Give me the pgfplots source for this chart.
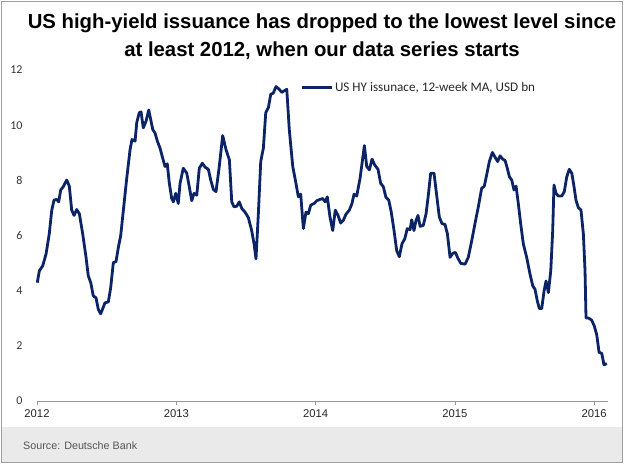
\documentclass[border=0pt]{standalone}
\usepackage{pgfplots}
\pgfplotsset{compat=1.18}
\usepackage{fontspec}
\setmainfont{Liberation Sans}
\newfontfamily\carlito{Carlito}
\definecolor{navy}{RGB}{12,36,102}
\definecolor{framegray}{RGB}{160,160,160}
\definecolor{footgray}{RGB}{234,234,234}
\definecolor{srcgray}{RGB}{85,85,85}
\definecolor{axgray}{RGB}{150,150,150}
\begin{document}
\begin{tikzpicture}
\path[use as bounding box] (0,0) rectangle (624bp,464bp);
\fill[footgray] (2bp,2bp) rectangle (622bp,37bp);
\draw[framegray, line width=1bp] (1.5bp,1.5bp) rectangle (622.5bp,462.5bp);
\node[font=\bfseries\fontsize{20.4}{24}\selectfont, anchor=center] at (322bp,441bp) {US high-yield issuance has dropped to the lowest level since};
\node[font=\bfseries\fontsize{20.4}{24}\selectfont, anchor=center] at (322bp,413bp) {at least 2012, when our data series starts};
\node[font=\fontsize{10.8}{12}\selectfont, text=srcgray, anchor=west, inner sep=0pt] at (23bp,18.5bp) {Source: Deutsche Bank};
\begin{axis}[
  at={(37bp,63bp)}, anchor=south west,
  scale only axis, width=570.6bp, height=331bp,
  xmin=2012, xmax=2016.096, ymin=0, ymax=12,
  axis x line*=bottom, axis y line*=left,
  x axis line style={draw=axgray, line width=0.8bp},
  y axis line style={draw=none},
  xtick={2012,2013,2014,2015,2016},
  ytick={0,2,4,6,8,10,12},
  tick align=outside,
  major tick length=4bp,
  xtick style={draw=axgray, line width=0.8bp},
  ytick style={draw=none},
  /pgf/number format/assume math mode=true,
  /pgf/number format/1000 sep={},
  xticklabel style={font=\fontsize{11.3}{12}\selectfont, text=black!85, yshift=-1bp},
  yticklabel style={font=\carlito\fontsize{12}{12}\selectfont, text=black!80, xshift=-7bp},
  legend style={draw=none, fill=none, at={(0.461,0.947)}, anchor=west, inner sep=0pt,
    font=\carlito\fontsize{13.2}{14}\selectfont, text=black!85},
  legend image code/.code={\draw[#1] (0bp,0bp) -- (30bp,0bp);},
  legend cell align=left,
  clip=false,
]
\addplot[navy, line width=2.8bp, line join=round] coordinates {
(2012.002,4.29)(2012.017,4.72)(2012.041,4.90)(2012.065,5.33)(2012.088,6.06)(2012.106,6.92)(2012.122,7.28)(2012.141,7.31)(2012.156,7.22)(2012.170,7.65)(2012.189,7.77)(2012.213,8.01)(2012.232,7.79)(2012.249,6.92)(2012.266,6.73)(2012.285,6.94)(2012.304,6.79)(2012.328,6.06)(2012.352,5.21)(2012.368,4.54)(2012.386,4.29)(2012.404,3.81)(2012.424,3.74)(2012.440,3.32)(2012.457,3.16)(2012.472,3.35)(2012.488,3.56)(2012.512,3.59)(2012.529,4.11)(2012.548,5.02)(2012.567,5.05)(2012.584,5.57)(2012.601,6.00)(2012.620,6.92)(2012.644,8.07)(2012.668,9.11)(2012.682,9.48)(2012.704,9.42)(2012.716,10.09)(2012.734,10.45)(2012.747,10.48)(2012.763,9.90)(2012.783,10.15)(2012.802,10.55)(2012.816,10.21)(2012.831,9.84)(2012.847,9.72)(2012.864,9.42)(2012.883,9.17)(2012.902,8.81)(2012.919,8.50)(2012.935,8.60)(2012.950,7.89)(2012.967,7.34)(2012.979,7.22)(2012.996,7.53)
(2013.014,7.16)(2013.027,7.89)(2013.050,8.44)(2013.075,8.26)(2013.093,7.77)(2013.111,7.26)(2013.127,7.53)(2013.147,7.46)(2013.165,8.44)(2013.187,8.62)(2013.206,8.48)(2013.230,8.40)(2013.247,8.01)(2013.266,7.67)(2013.285,7.59)(2013.307,8.44)(2013.333,9.62)(2013.357,9.11)(2013.381,8.74)(2013.398,7.22)(2013.414,7.04)(2013.434,7.06)(2013.452,7.22)(2013.470,6.98)(2013.493,6.85)(2013.517,6.65)(2013.541,6.18)(2013.558,5.70)(2013.572,5.15)(2013.589,6.79)(2013.606,8.68)(2013.625,9.17)(2013.642,10.45)(2013.661,10.64)(2013.678,11.12)(2013.696,11.16)(2013.716,11.40)(2013.739,11.30)(2013.757,11.19)(2013.773,11.24)(2013.793,11.30)(2013.811,9.84)(2013.836,8.50)(2013.859,7.89)(2013.876,7.40)(2013.893,7.50)(2013.912,6.25)(2013.931,6.85)(2013.948,6.79)(2013.965,7.10)(2013.989,7.16)
(2014.008,7.26)(2014.032,7.31)(2014.051,7.34)(2014.068,7.22)(2014.084,7.40)(2014.103,6.67)(2014.123,6.18)(2014.141,6.92)(2014.161,6.73)(2014.180,6.45)(2014.199,6.55)(2014.218,6.77)(2014.242,6.92)(2014.261,7.16)(2014.276,7.50)(2014.295,7.43)(2014.319,8.07)(2014.335,8.68)(2014.350,9.26)(2014.367,8.50)(2014.386,8.38)(2014.405,8.77)(2014.424,8.56)(2014.448,8.40)(2014.467,7.89)(2014.486,7.77)(2014.505,7.38)(2014.525,7.28)(2014.543,6.85)(2014.563,6.18)(2014.582,5.45)(2014.601,5.23)(2014.620,5.70)(2014.640,5.88)(2014.658,6.25)(2014.678,6.21)(2014.690,6.57)(2014.706,6.18)(2014.721,6.55)(2014.735,6.73)(2014.750,6.33)(2014.773,6.37)(2014.793,6.79)(2014.809,7.46)(2014.826,8.26)(2014.850,8.26)(2014.869,7.46)(2014.888,6.67)(2014.907,6.43)(2014.929,6.40)(2014.946,6.06)(2014.965,5.21)(2014.984,5.35)
(2015.003,5.39)(2015.021,5.18)(2015.042,4.99)(2015.073,4.96)(2015.096,5.21)(2015.121,5.82)(2015.144,6.43)(2015.168,7.04)(2015.192,7.71)(2015.211,7.79)(2015.228,8.20)(2015.247,8.68)(2015.269,9.01)(2015.288,8.84)(2015.307,8.68)(2015.324,8.89)(2015.343,8.77)(2015.360,8.72)(2015.376,8.44)(2015.391,8.13)(2015.408,8.01)(2015.424,7.65)(2015.439,7.79)(2015.455,7.16)(2015.472,6.43)(2015.491,5.70)(2015.515,5.21)(2015.539,4.60)(2015.559,4.17)(2015.575,4.05)(2015.592,3.62)(2015.606,3.35)(2015.623,3.35)(2015.640,3.99)(2015.654,4.35)(2015.671,3.93)(2015.688,4.72)(2015.702,6.18)(2015.711,7.83)(2015.726,7.53)(2015.742,7.43)(2015.767,7.43)(2015.785,7.59)(2015.803,8.13)(2015.821,8.40)(2015.839,8.26)(2015.855,7.77)(2015.869,7.28)(2015.886,7.01)(2015.905,6.92)(2015.922,6.06)(2015.934,4.72)(2015.941,3.01)(2015.958,3.01)(2015.982,2.93)
(2016.001,2.71)(2016.018,2.40)(2016.035,1.76)(2016.054,1.73)(2016.070,1.31)(2016.090,1.36)
};
\addlegendentry{US HY issunace, 12-week MA, USD bn}
\end{axis}
\end{tikzpicture}
\end{document}
